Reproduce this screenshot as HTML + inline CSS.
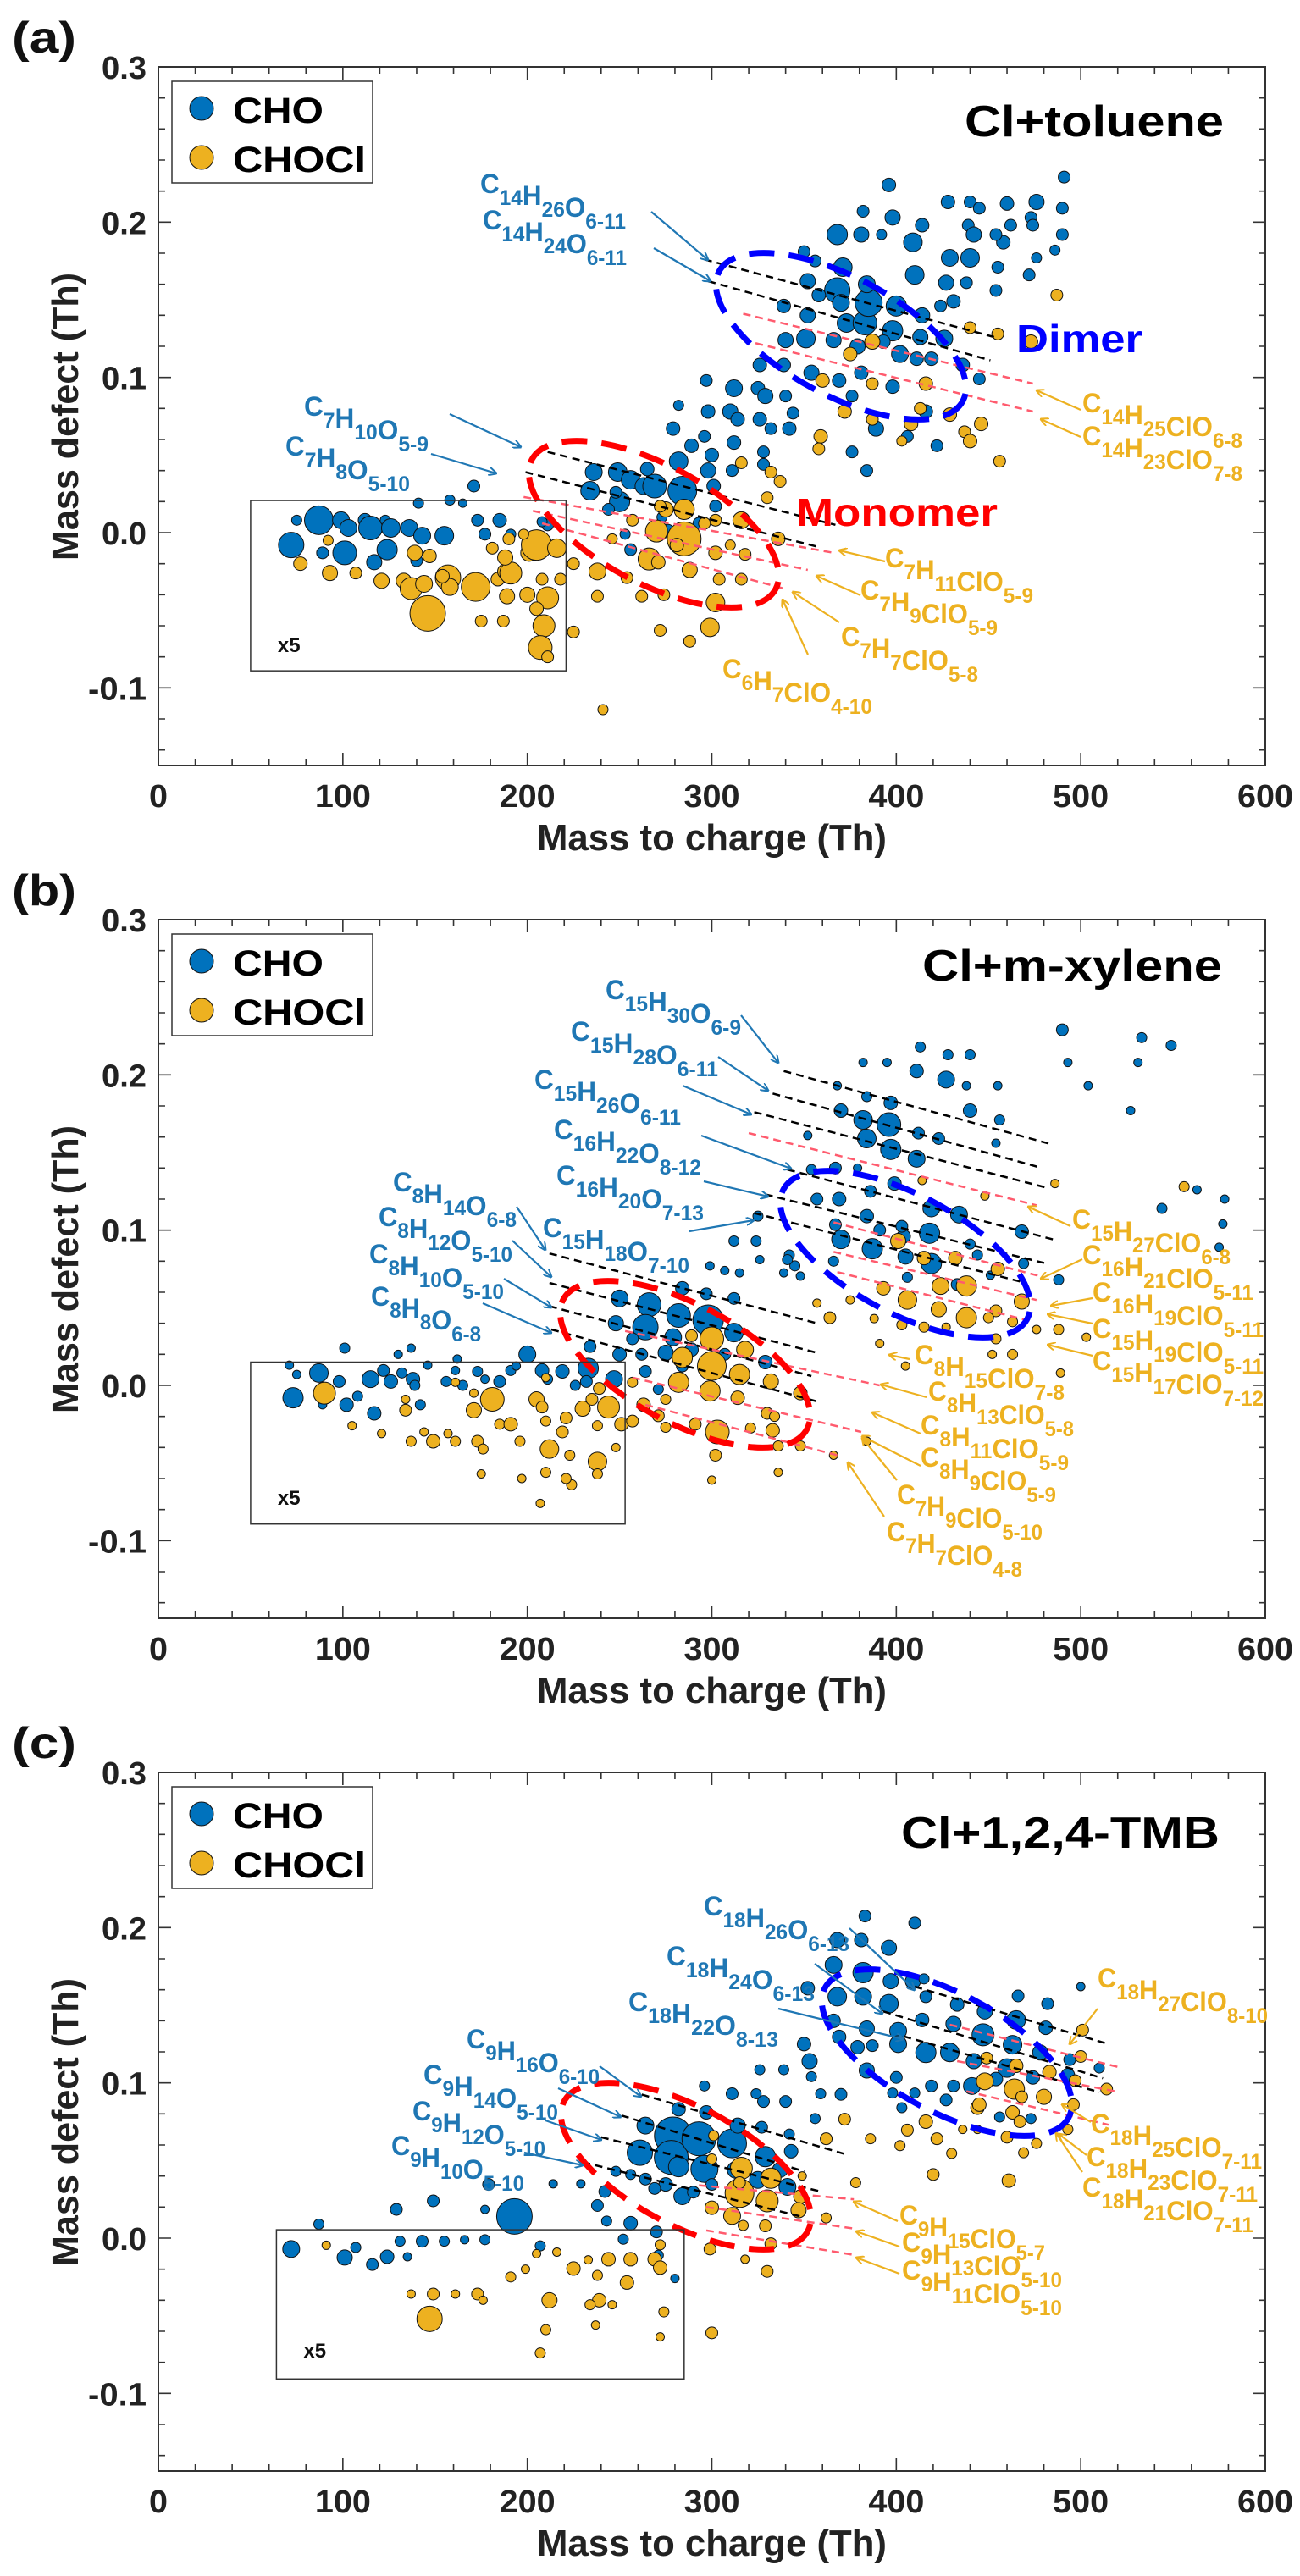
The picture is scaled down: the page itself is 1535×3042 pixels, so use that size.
<!DOCTYPE html>
<html><head><meta charset="utf-8"><title>Mass defect plots</title>
<style>
html,body{margin:0;padding:0;background:#fff;}
svg{display:block;font-family:"Liberation Sans",Arial,sans-serif;font-weight:bold;}
</style></head>
<body>
<svg id="fig" width="1535" height="3042" viewBox="0 0 1535 3042" xmlns="http://www.w3.org/2000/svg">
<defs>
<marker id="ahB" markerWidth="10" markerHeight="10" refX="9" refY="5" orient="auto" markerUnits="userSpaceOnUse" viewBox="0 0 10 10"><path d="M0,0 L10,5 L0,10" fill="none" stroke="#1f77b4" stroke-width="2"/></marker>
<marker id="ahO" markerWidth="10" markerHeight="10" refX="9" refY="5" orient="auto" markerUnits="userSpaceOnUse" viewBox="0 0 10 10"><path d="M0,0 L10,5 L0,10" fill="none" stroke="#EDB120" stroke-width="2"/></marker>
</defs>
</svg>
<script>
// ---------- DATA (m/z, mass defect, marker radius) ----------
const choA=[[72,-0.008,15],[87,0.008,17],[75,0.008,6],[99,0.008,10],[101,-0.013,14],[103,0.003,10],[112,0.008,8],[115,0.003,14],[123,0.008,6],[124,-0.011,12],[126,0.003,11],[136,0.003,10],[140,-0.018,7],[143,-0.002,10],[155,-0.002,11],[89,-0.013,7],[117,-0.019,9],[141,0.019,6],[158,0.021,6],[165,0.019,5],[171,0.030,7],[173,0.008,7],[177,-0.001,7],[185,0.008,8],[191,-0.001,6],[211,0.005,7],[208,0.007,6],
[236,0.039,10],[234,0.027,11],[249,0.039,11],[250,0.020,12],[256,0.034,11],[263,0.030,10],[269,0.030,14],[282,0.046,11],[284,0.027,17],[265,0.041,8],[279,0.067,8],[282,0.082,6],[298,0.078,8],[297,0.098,7],[312,0.093,10],[310,0.078,9],[314,0.073,8],[325,0.093,8],[329,0.088,9],[326,0.073,8],[332,0.067,7],[342,0.067,8],[344,0.077,7],[340,0.088,7],[312,0.058,8],[298,0.040,9],[301,0.030,8],[311,0.040,7],[328,0.052,7],[300,0.050,8],[296,0.062,7],[289,0.056,8],[276,0.001,8],[256,-0.011,7],[253,-0.001,6],[293,0.006,7],[328,0.044,7],[273,0.010,6],[302,0.017,7],[248,0.026,7],[244,0.015,7],
[350,0.181,7],[352,0.162,9],[356,0.175,7],[368,0.192,12],[368,0.156,15],[382,0.207,7],[381,0.192,9],[392,0.192,6],[398,0.203,9],[409,0.187,11],[396,0.224,8],[414,0.198,8],[410,0.166,11],[424,0.146,7],[427,0.161,9],[429,0.177,10],[428,0.213,8],[440,0.213,7],[445,0.209,7],[439,0.198,7],[442,0.192,9],[440,0.177,11],[438,0.161,7],[458,0.187,8],[454,0.192,7],[462,0.198,7],[460,0.212,8],[476,0.213,9],[473,0.203,7],[474,0.198,7],[490,0.209,7],[491,0.229,7],[476,0.177,6],[472,0.166,7],[455,0.171,7],[454,0.156,7],[490,0.192,7],[486,0.182,6],[339,0.146,8],[352,0.140,9],[358,0.153,8],[370,0.148,10],[373,0.135,11],[383,0.135,14],[385,0.148,16],[400,0.146,12],[398,0.130,12],[384,0.160,10],[371,0.171,11],[413,0.126,9],[414,0.140,9],[426,0.125,10],[431,0.149,8],[340,0.124,9],[351,0.125,11],[366,0.124,9],[379,0.120,9],[393,0.123,8],[402,0.115,10],[419,0.112,8],[436,0.108,8],[326,0.108,8],[339,0.108,8],[354,0.103,9],[369,0.098,8],[381,0.103,8],[398,0.094,8],[411,0.112,8],[376,0.088,7],[389,0.067,9],[406,0.062,7],[422,0.056,7],[376,0.052,7],[384,0.040,7],[445,0.099,7],[416,0.078,8]];
const choclA=[[77,-0.020,8],[92,-0.005,6],[93,-0.026,9],[107,-0.026,7],[121,-0.031,9],[133,-0.031,9],[137,-0.036,13],[144,-0.033,10],[147,-0.015,8],[146,-0.052,21],[157,-0.029,15],[158,-0.035,10],[172,-0.035,17],[175,-0.057,7],[184,-0.030,8],[187,-0.057,7],[188,-0.025,9],[191,-0.026,13],[189,-0.041,9],[190,-0.004,7],[200,-0.040,9],[201,-0.013,10],[205,-0.008,18],[208,-0.030,7],[211,-0.042,13],[209,-0.060,13],[207,-0.074,14],[211,-0.080,7],[218,-0.030,7],[216,-0.010,11],[225,-0.020,7],[225,-0.064,7],[188,-0.016,9],[181,-0.010,7],[198,-0.001,6],[205,-0.049,8],[154,-0.028,8],[139,-0.013,9],
[238,-0.025,10],[238,-0.041,7],[254,-0.029,7],[262,-0.041,7],[266,-0.017,13],[270,0.001,13],[272,-0.063,7],[274,-0.040,7],[271,-0.019,8],[285,-0.004,20],[288,-0.024,9],[288,-0.070,7],[299,-0.061,11],[302,-0.045,11],[304,-0.030,7],[302,-0.013,8],[316,-0.030,7],[316,0.008,10],[318,-0.014,7],[330,0.0225,7],[336,-0.004,8],[337,0.033,7],[332,0.039,7],[316,0.045,7],[302,0.008,7],[275,0.015,9],[285,0.015,12],[272,0.017,7],[281,-0.008,8],[241,-0.114,6],[296,0.006,7],[310,-0.008,6],[246,-0.004,6],[257,0.008,7],
[360,0.098,8],[359,0.062,8],[358,0.054,7],[372,0.078,8],[375,0.115,8],[387,0.096,7],[387,0.073,7],[387,0.123,9],[403,0.059,6],[408,0.070,8],[413,0.080,7],[416,0.096,8],[429,0.076,8],[437,0.065,7],[440,0.059,8],[446,0.070,8],[440,0.132,7],[456,0.046,7],[455,0.128,7],[473,0.123,8],[487,0.153,7]];
const choB=[[71,0.013,5],[73,-0.008,12],[75,0.007,5],[87,0.008,11],[89,-0.0125,5],[98,0.0025,7],[102,-0.0125,8],[108,-0.007,6],[115,0.004,10],[117,-0.018,8],[122,0.0096,7],[126,0.0025,8],[132,0.008,6],[138,0.004,8],[139,0,6],[142,-0.0125,6],[146,0.013,5],[156,0.0025,6],[161,0.0096,5],[165,0,6],[173,0.009,6],[177,0.004,5],[185,0.0025,7],[191,0.0096,6],[200,0.020,10],[208,0.0096,8],[211,0.004,6],[219,0.009,8],[233,0.011,12],[232,0.0025,7],[247,0.004,10],[226,0,6],[101,0.024,6],[130,0.020,5],[137,0.024,5],[162,0.017,5],[194,0.0125,5],
[250,0.056,10],[248,0.040,9],[266,0.052,14],[264,0.0375,15],[282,0.045,14],[284,0.0625,8],[279,0.031,10],[298,0.042,18],[297,0.059,7],[312,0.034,11],[312,0.056,7],[257,0.030,7],[234,0.025,7],[250,0.020,8],[262,0.020,7],[275,0.021,9],[289,0.023,8],[307,0.020,7],[329,0.015,8],[299,0.077,5],[307,0.074,5],[315,0.0725,5],[312,0.093,6],[324,0.093,6],[326,0.081,5],[339,0.0725,5],[342,0.084,6],[345,0.077,6],[325,0.109,6],[264,0.009,7],[284,0.0125,7],[271,-0.0025,6],
[370,0.094,11],[387,0.088,12],[405,0.083,9],[419,0.0785,12],[418,0.098,12],[404,0.096,8],[391,0.100,7],[434,0.110,10],[419,0.114,10],[403,0.1025,7],[384,0.109,8],[367,0.1035,7],[357,0.120,7],[369,0.120,8],[386,0.125,7],[399,0.130,8],[367,0.140,7],[354,0.139,6],[379,0.140,5],[384,0.159,11],[397,0.152,12],[411,0.146,10],[396,0.168,14],[382,0.171,11],[412,0.1625,7],[423,0.159,7],[397,0.182,8],[370,0.177,8],[384,0.186,6],[411,0.2025,8],[427,0.197,10],[440,0.177,8],[438,0.193,5],[455,0.193,5],[456,0.171,6],[454,0.156,5],[468,0.099,8],[469,0.0785,6],[488,0.068,6],[413,0.218,6],[428,0.213,6],[440,0.213,6],[395,0.208,5],[382,0.208,5],[368,0.193,5],[352,0.161,5],[490,0.229,7],[493,0.208,5],[504,0.193,5],[527,0.177,5],[533,0.224,6],[531,0.208,5],[549,0.219,6],[544,0.114,6],[563,0.126,5],[578,0.120,5],[577,0.104,5],[575,0.089,5],[440,0.091,6],[444,0.084,6],[451,0.071,5],[433,0.065,7],[406,0.0696,6],[366,0.080,6],[348,0.0704,5],[341,0.081,6]];
const choclB=[[90,-0.005,13],[105,-0.026,5],[121,-0.031,5],[134,-0.016,7],[137,-0.036,6],[144,-0.030,5],[149,-0.036,8],[157,-0.031,5],[161,-0.036,6],[171,-0.016,9],[173,-0.036,7],[176,-0.041,6],[181,-0.009,14],[175,-0.057,5],[185,-0.025,6],[191,-0.025,8],[196,-0.036,6],[197,-0.060,5],[205,-0.009,9],[208,-0.014,7],[210,-0.023,6],[212,-0.041,11],[210,-0.056,6],[207,-0.076,5],[221,-0.021,7],[219,-0.030,7],[223,-0.045,6],[224,-0.064,6],[221,-0.060,6],[230,-0.015,9],[238,-0.049,11],[238,-0.057,6],[238,-0.026,6],[244,-0.014,13],[248,-0.040,5],[251,-0.025,8],[239,-0.002,7],[235,-0.009,7],[161,0.002,5],[171,-0.005,5],[210,0.005,5],[134,-0.009,5],
[284,0.018,12],[300,0.030,14],[300,0.0125,17],[315,0.007,12],[318,0.023,10],[332,0.0025,9],[282,0.002,12],[299,-0.0036,12],[314,-0.008,8],[330,-0.018,7],[348,-0.005,8],[303,-0.030,14],[291,-0.025,7],[321,-0.0275,6],[334,-0.020,6],[333,-0.029,8],[302,-0.045,7],[300,-0.061,5],[336,-0.056,5],[336,-0.039,6],[348,-0.039,6],[263,-0.0125,8],[271,-0.0196,7],[257,0.002,6],[289,0.032,7],[275,-0.009,6],[257,-0.023,7],[275,-0.027,6],
[401,0.093,9],[415,0.082,8],[432,0.082,8],[438,0.064,12],[424,0.064,10],[406,0.055,11],[393,0.0625,8],[423,0.049,9],[438,0.0436,12],[454,0.048,7],[455,0.075,8],[468,0.054,9],[463,0.041,6],[450,0.0436,6],[454,0.030,6],[476,0.036,5],[488,0.036,6],[463,0.020,6],[452,0.020,5],[427,0.0375,5],[415,0.0375,6],[403,0.039,6],[388,0.043,5],[375,0.055,5],[364,0.0436,7],[357,0.053,5],[391,0.027,5],[405,0.0125,5],[384,-0.036,5],[366,-0.045,5],[414,0.132,5],[448,0.122,5],[486,0.130,5],[556,0.128,6],[503,0.031,5],[489,0.008,5]];
const choC=[[72,-0.007,10],[87,0.009,6],[101,-0.0125,9],[107,-0.006,6],[116,-0.017,7],[124,-0.012,8],[131,-0.002,6],[135,-0.012,5],[143,-0.002,7],[155,-0.002,6],[166,-0.001,5],[177,-0.001,6],[129,0.0185,7],[149,0.024,7],[179,0.0346,7],[177,0.0185,5],[193,0.014,21],[214,0.035,5],[229,0.035,5],[242,0.030,7],[238,0.021,7],[243,0.011,6],[256,0.0096,8],[252,-0.0007,6],[270,0.004,7],[280,-0.026,5],[207,-0.005,6],[271,-0.011,6],
[264,0.0725,10],[261,0.055,15],[279,0.066,22],[278,0.052,20],[293,0.064,20],[296,0.0446,16],[282,0.046,12],[311,0.061,17],[313,0.044,10],[329,0.0525,12],[297,0.081,8],[282,0.083,8],[314,0.0725,9],[327,0.0714,7],[343,0.056,8],[342,0.067,6],[337,0.044,9],[325,0.0375,10],[341,0.033,10],[284,0.027,10],[275,0.0346,8],[264,0.038,7],[256,0.041,6],[248,0.043,6],[269,0.032,7],[290,0.0296,7],[300,0.0346,7],[296,0.098,6],[311,0.093,7],[324,0.093,6],[328,0.088,7],[340,0.088,7],[326,0.1085,6],[339,0.1085,6],[354,0.104,6],[356,0.077,6],[359,0.093,6],[370,0.0926,7],[372,0.0766,6],[384,0.1085,6],[353,0.114,9],[350,0.125,8],[379,0.123,8],
[368,0.192,9],[381,0.192,8],[383,0.2075,7],[396,0.187,9],[410,0.203,7],[366,0.176,10],[382,0.171,12],[397,0.1655,9],[409,0.1655,9],[352,0.161,8],[368,0.1555,11],[382,0.1555,10],[396,0.151,11],[416,0.1555,7],[433,0.1505,8],[448,0.146,9],[465,0.1405,11],[466,0.156,7],[482,0.151,7],[366,0.140,8],[384,0.135,9],[401,0.1335,10],[414,0.1405,8],[431,0.138,9],[447,0.131,13],[463,0.1246,11],[481,0.1355,8],[369,0.1296,8],[387,0.124,7],[401,0.125,10],[416,0.1196,12],[429,0.1196,11],[442,0.114,9],[460,0.1096,11],[478,0.1196,9],[494,0.115,7],[510,0.1096,6],[384,0.108,9],[400,0.1035,7],[419,0.098,7],[431,0.098,7],[441,0.098,10],[454,0.1025,8],[474,0.1035,8],[493,0.105,8],[398,0.0935,6],[410,0.0935,6],[403,0.084,6],[427,0.089,7],[456,0.078,6],[473,0.077,6],[500,0.162,5],[415,0.167,6]];
const choclC=[[91,-0.0046,5],[137,-0.036,5],[149,-0.036,7],[161,-0.036,5],[173,-0.036,7],[176,-0.040,5],[147,-0.052,15],[191,-0.025,6],[199,-0.020,5],[205,-0.010,5],[216,-0.009,5],[212,-0.040,9],[225,-0.0196,8],[233,-0.014,5],[238,-0.024,6],[244,-0.0136,8],[256,-0.0136,8],[269,-0.0136,8],[272,-0.0043,6],[254,-0.0286,8],[272,-0.019,8],[274,-0.0475,6],[272,-0.0636,5],[239,-0.040,8],[234,-0.0429,6],[246,-0.0429,5],[237,-0.056,5],[210,-0.059,6],[207,-0.074,6],[300,-0.061,7],[299,-0.007,7],[318,-0.0136,5],[330,-0.0214,7],[332,-0.0036,7],[300,0.0196,8],[311,0.0143,10],[315,0.029,17],[316,0.045,13],[332,0.0386,12],[330,0.024,13],[348,0.0268,8],[347,0.018,9],[329,0.0079,7],[317,0.0082,6],[300,0.051,6],[301,0.066,6],[315,0.0357,7],[349,0.040,5],[362,0.013,6],[378,0.0357,6],
[372,0.0766,7],[362,0.064,7],[386,0.064,6],[406,0.0696,7],[416,0.075,8],[402,0.0596,6],[422,0.064,7],[430,0.0546,6],[420,0.041,7],[444,0.084,8],[445,0.086,8],[448,0.101,10],[449,0.116,7],[465,0.111,8],[464,0.096,12],[468,0.091,7],[480,0.091,9],[483,0.107,8],[500,0.117,7],[497,0.1014,7],[496,0.086,7],[514,0.096,7],[463,0.081,8],[467,0.075,7],[460,0.065,7],[476,0.061,6],[493,0.070,6],[501,0.134,7],[469,0.055,6],[461,0.037,8],[444,0.070,5],[436,0.070,5]];
// dashed homologous-series lines [m1, md1, m2, md2]
const blackA=[[296,0.176,453,0.126],[298,0.162,451,0.111],[211,0.052,367,0.005],[199,0.039,357,-0.009]];
const pinkA=[[317,0.141,474,0.096],[317,0.124,474,0.078],[198,0.023,366,-0.013],[203,0.014,352,-0.024],[208,0.006,339,-0.036]];
const blackB=[[339,0.2025,485,0.155],[333,0.188,479,0.140],[323,0.176,481,0.1275],[341,0.139,485,0.094],[329,0.123,481,0.0786],[323,0.111,470,0.066],[212,0.085,357,0.040],[212,0.066,357,0.021],[212,0.051,354,0.006],[213,0.036,359,-0.011]];
const pinkB=[[320,0.1625,476,0.116],[366,0.105,479,0.070],[366,0.086,476,0.055],[368,0.073,474,0.041],[253,0.035,391,0],[257,0.005,381,-0.030],[264,-0.0125,368,-0.045]];
const blackC=[[262,0.0925,374,0.0535],[251,0.079,350,0.043],[240,0.065,359,0.030],[230,0.049,348,0.014],[410,0.162,515,0.125],[393,0.146,512,0.103],[404,0.130,510,0.094]];
const pinkC=[[293,0.034,377,0.025],[297,0.020,378,0.006],[297,0.005,378,-0.011],[429,0.1375,521,0.110],[433,0.114,519,0.0945],[438,0.0946,515,0.073]];
const xTicks=[0,100,200,300,400,500,600];
const xTickLabels=["0","100","200","300","400","500","600"];
const yTicks=[-0.1,0,0.1,0.2,0.3];
const yTickLabels=["-0.1","0.0","0.1","0.2","0.3"];
const titles=["Cl+toluene","Cl+m-xylene","Cl+1,2,4-TMB"];
const panelLetters=["(a)","(b)","(c)"];
// ---------- LAYOUT ----------
const TOPS=[79,1086,2093];
const PL=187, PR=1494, PH=825;
const KX=(PR-PL)/600, KY=PH/0.45;
function X(m){return PL+m*KX;}
function Y(p,d){return TOPS[p]+(0.3-d)*KY;}
const NS="http://www.w3.org/2000/svg";
const svg=document.getElementById('fig');
function mk(tag,attrs,parent){const e=document.createElementNS(NS,tag);for(const k in attrs)e.setAttribute(k,attrs[k]);(parent||svg).appendChild(e);return e;}
const BLUE="#0072BD", ORANGE="#EDB120", LBLUE="#1f77b4";

function formula(g,str,x,y,w,color,name){
  const t=mk('text',{x:x,y:y,fill:color,'font-size':32,textLength:w,lengthAdjust:'spacingAndGlyphs'},g);
  
  
  const re=/([A-Za-z]+)([0-9\-]*)/g;let m;
  while((m=re.exec(str))){
    const a=mk('tspan',{},t);a.textContent=m[1];
    if(m[2]){const b=mk('tspan',{'font-size':25,dy:14},t);b.textContent=m[2];const c=mk('tspan',{dy:-14},t);c.textContent='';}
  }
  return t;
}
function arrow(g,x1,y1,x2,y2,color,name){
  const l=mk('line',{x1:x1,y1:y1,x2:x2,y2:y2,stroke:color,'stroke-width':2.2,'marker-end':color===ORANGE?'url(#ahO)':'url(#ahB)'},g);
  
  
}

const datasets=[[choA,choclA,blackA,pinkA],[choB,choclB,blackB,pinkB],[choC,choclC,blackC,pinkC]];
const insets=[[50,0.0207,221,-0.089],[50,0.015,253,-0.0893],[64,0.0054,285,-0.0907]];
const ellipses=[[[772,619],[993,397]],[[809,1611],[1069,1481]],[[810,2558],[1118,2424]]];

// annotations: [formula, x, baseline, width, color, ax1, ay1, ax2, ay2]
const notes=[
[["C14H26O6-11",567,228,172,LBLUE,769,250,836,307],["C14H24O6-11",570,271,170,LBLUE,772,293,839,332],["C7H10O5-9",359,491,147,LBLUE,531,489,615,528],["C7H8O5-10",337,538,147,LBLUE,509,536,586,559],
 ["C14H25ClO6-8",1278,487,189,ORANGE,1276,484,1224,461],["C14H23ClO7-8",1278,526,189,ORANGE,1276,516,1229,495],["C7H11ClO5-9",1045,670,175,ORANGE,1045,663,991,650],["C7H9ClO5-9",1016,708,162,ORANGE,1016,703,964,680],["C7H7ClO5-8",993,763,162,ORANGE,991,735,936,699],["C6H7ClO4-10",853,801,177,ORANGE,954,773,924,708]],
[["C15H30O6-9",715,1180,160,LBLUE,875,1199,919,1255],["C15H28O6-11",674,1229,174,LBLUE,848,1248,907,1288],["C15H26O6-11",631,1286,173,LBLUE,806,1282,887,1316],["C16H22O8-12",654,1345,174,LBLUE,828,1341,934,1380],["C16H20O7-13",657,1399,174,LBLUE,831,1395,907,1413],["C15H18O7-10",641,1461,173,LBLUE,814,1454,890,1441],
 ["C8H14O6-8",464,1407,146,LBLUE,610,1425,644,1476],["C8H12O5-10",447,1448,158,LBLUE,605,1465,651,1508],["C8H10O5-10",436,1492,159,LBLUE,595,1510,651,1544],["C8H8O6-8",438,1542,130,LBLUE,570,1539,651,1574],
 ["C15H27ClO6-8",1266,1451,187,ORANGE,1264,1448,1214,1425],["C16H21ClO5-11",1278,1493,202,ORANGE,1278,1487,1229,1510],["C16H19ClO5-11",1290,1537,202,ORANGE,1290,1533,1241,1542],["C15H19ClO5-11",1290,1580,202,ORANGE,1290,1563,1237,1552],["C15H17ClO7-12",1290,1618,202,ORANGE,1290,1601,1237,1588],
 ["C8H15ClO7-8",1080,1611,177,ORANGE,1074,1605,1050,1600],["C8H13ClO5-8",1096,1654,172,ORANGE,1094,1650,1040,1635],["C8H11ClO5-9",1087,1694,175,ORANGE,1087,1693,1030,1668],["C8H9ClO5-9",1087,1732,160,ORANGE,1087,1731,1018,1696],["C7H9ClO5-10",1059,1776,172,ORANGE,1059,1748,1018,1698],["C7H7ClO4-8",1047,1820,160,ORANGE,1044,1791,1001,1727]],
[["C18H26O6-13",831,2262,172,LBLUE,1003,2277,1080,2350],["C18H24O6-13",787,2321,175,LBLUE,962,2319,1042,2378],["C18H22O8-13",742,2375,177,LBLUE,919,2372,1067,2408],
 ["C9H16O6-10",551,2419,157,LBLUE,708,2440,757,2476],["C9H14O5-10",500,2461,159,LBLUE,659,2466,733,2500],["C9H12O5-10",487,2504,157,LBLUE,644,2504,710,2527],["C9H10O5-10",462,2545,157,LBLUE,619,2542,688,2557],
 ["C18H27ClO8-10",1296,2347,201,ORANGE,1296,2372,1263,2414],["C18H25ClO7-11",1288,2519,202,ORANGE,1288,2506,1254,2485],["C18H23ClO7-11",1283,2558,202,ORANGE,1283,2545,1250,2520],["C18H21ClO7-11",1278,2594,202,ORANGE,1278,2565,1247,2519],
 ["C9H15ClO5-7",1062,2627,172,ORANGE,1060,2623,1008,2600],["C9H13ClO5-10",1065,2659,189,ORANGE,1062,2653,1011,2635],["C9H11ClO5-10",1065,2692,189,ORANGE,1062,2685,1011,2666]]
];
const titleGeom=[[1139,161,306],[1089,1158,354],[1064,2182,376]];

for(let p=0;p<3;p++){
  const T=TOPS[p], B=T+PH;
  const g=mk('g',{});
  
  
  const [cho,chocl,blk,pnk]=datasets[p];
  const gc=mk('g',{},g);
  
  
  cho.forEach(d=>{const c=mk('circle',{cx:X(d[0]),cy:Y(p,d[1]),r:d[2],fill:BLUE,stroke:'#111','stroke-width':1},gc);
    
    });
  const go=mk('g',{},g);
  
  
  chocl.forEach(d=>{const c=mk('circle',{cx:X(d[0]),cy:Y(p,d[1]),r:d[2],fill:ORANGE,stroke:'#111','stroke-width':1},go);
    
    });
  blk.forEach(s=>{const l=mk('line',{x1:X(s[0]),y1:Y(p,s[1]),x2:X(s[2]),y2:Y(p,s[3]),stroke:'#000','stroke-width':2.5,'stroke-dasharray':'9 6'},g);
    
    });
  pnk.forEach(s=>{const l=mk('line',{x1:X(s[0]),y1:Y(p,s[1]),x2:X(s[2]),y2:Y(p,s[3]),stroke:'#ff5b6e','stroke-width':2.5,'stroke-dasharray':'9 6'},g);
    
    });
  const em=ellipses[p];
  const e1=mk('ellipse',{cx:em[0][0],cy:em[0][1],rx:163,ry:70,transform:`rotate(28 ${em[0][0]} ${em[0][1]})`,fill:'none',stroke:'#ff0000','stroke-width':7,'stroke-dasharray':'30 17'},g);
  
  
  const e2=mk('ellipse',{cx:em[1][0],cy:em[1][1],rx:163,ry:70,transform:`rotate(28 ${em[1][0]} ${em[1][1]})`,fill:'none',stroke:'#0000ff','stroke-width':7,'stroke-dasharray':'30 17'},g);
  
  
  const ib=insets[p];
  const r=mk('rect',{x:X(ib[0]),y:Y(p,ib[1]),width:X(ib[2])-X(ib[0]),height:Y(p,ib[3])-Y(p,ib[1]),fill:'none',stroke:'#333','stroke-width':1.5},g);
  
  
  const x5=mk('text',{x:X(ib[0])+32,y:Y(p,-0.072)+9,'font-size':24,fill:'#111'},g);
  x5.textContent='x5';
  
  
  const fr=mk('rect',{x:PL,y:T,width:PR-PL,height:PH,fill:'none',stroke:'#333','stroke-width':2},g);
  
  
  let td='';
  for(let m=0;m<=600;m+=20){const L=(m%100===0)?15:8;const x=X(m);td+=`M${x},${B}v${-L}M${x},${T}v${L}`;}
  for(let k=-7;k<=15;k++){const d=k*0.02;const L=(k%5===0)?15:8;const y=Y(p,d);td+=`M${PL},${y}h${L}M${PR},${y}h${-L}`;}
  const tk=mk('path',{d:td,stroke:'#333','stroke-width':1.6,fill:'none'},g);
  
  
  xTicks.forEach((v,i)=>{const t=mk('text',{x:X(v),y:B+49,'text-anchor':'middle','font-size':38,fill:'#222',textLength:xTickLabels[i].length*22,lengthAdjust:'spacingAndGlyphs'},g);
    t.textContent=xTickLabels[i];
    
    });
  yTicks.forEach((v,i)=>{const s=yTickLabels[i];const t=mk('text',{x:173,y:Y(p,v)+14,'text-anchor':'end','font-size':38,fill:'#222',textLength:s.length===4?69:53,lengthAdjust:'spacingAndGlyphs'},g);
    t.textContent=s;
    
    });
  const xt=mk('text',{x:634,y:B+100,'font-size':44,fill:'#222',textLength:413,lengthAdjust:'spacingAndGlyphs'},g);
  xt.textContent='Mass to charge (Th)';
  
  
  const yt=mk('text',{x:0,y:0,'font-size':44,fill:'#222','text-anchor':'middle',textLength:340,lengthAdjust:'spacingAndGlyphs',transform:`translate(92 ${T+413}) rotate(-90)`},g);
  yt.textContent='Mass defect (Th)';
  
  
  const pl=mk('text',{x:14,y:T-17,'font-size':52,fill:'#111',textLength:76,lengthAdjust:'spacingAndGlyphs'},g);
  pl.textContent=panelLetters[p];
  
  
  const tg=titleGeom[p];
  const ti=mk('text',{x:tg[0],y:tg[1],'font-size':52,fill:'#000',textLength:tg[2],lengthAdjust:'spacingAndGlyphs'},g);
  ti.textContent=titles[p];
  
  
  const lg=mk('g',{},g);
  
  
  mk('rect',{x:203,y:T+17,width:237,height:120,fill:'#fff',stroke:'#333','stroke-width':1.5},lg);
  const m1=mk('circle',{cx:238,cy:T+49,r:14,fill:BLUE,stroke:'#111','stroke-width':1},lg);
  
  
  const m2=mk('circle',{cx:238,cy:T+107,r:14,fill:ORANGE,stroke:'#111','stroke-width':1},lg);
  
  
  const l1=mk('text',{x:275,y:T+66,'font-size':43,fill:'#000',textLength:107,lengthAdjust:'spacingAndGlyphs'},lg);
  l1.textContent='CHO';
  
  
  const l2=mk('text',{x:275,y:T+124,'font-size':43,fill:'#000',textLength:157,lengthAdjust:'spacingAndGlyphs'},lg);
  l2.textContent='CHOCl';
  
  
  notes[p].forEach(n=>{formula(g,n[0],n[1],n[2],n[3],n[4],'formula-label');arrow(g,n[5],n[6],n[7],n[8],n[4],'formula-arrow');});
  if(p===0){
    const dm=mk('text',{x:1200,y:416,'font-size':46,fill:'#0000ff',textLength:149,lengthAdjust:'spacingAndGlyphs'},g);
    dm.textContent='Dimer';
    
    
    const mo=mk('text',{x:940,y:621,'font-size':46,fill:'#ff0000',textLength:238,lengthAdjust:'spacingAndGlyphs'},g);
    mo.textContent='Monomer';
    
    
  }
}
</script>
</body></html>
